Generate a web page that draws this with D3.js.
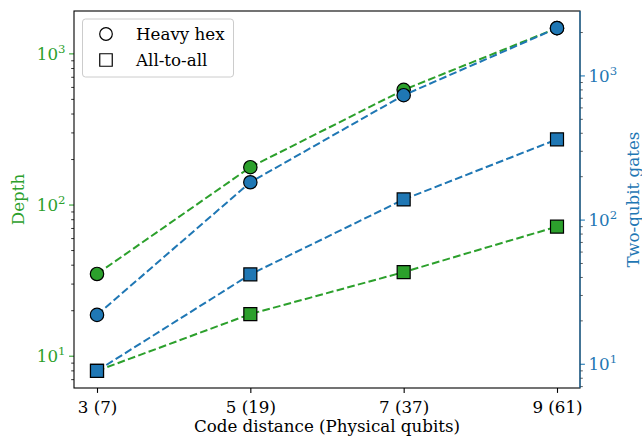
<!DOCTYPE html>
<html>
<head>
<meta charset="utf-8">
<script src="https://cdn.jsdelivr.net/npm/d3@7"></script>
<style>
  body { margin: 0; background: #fff; }
  svg { font-family: "DejaVu Serif", serif; }
</style>
</head>
<body>
<svg width="642" height="440"></svg>
<script>
var categories = ["3 (7)", "5 (19)", "7 (37)", "9 (61)"];
var depthHeavyHex = [35, 178, 578, 1480];
var depthAllToAll = [8, 19, 36, 72];
var gatesHeavyHex = [22, 183, 735, 2145];
var gatesAllToAll = [9, 42, 139, 363];

var green = "#2ca02c", blue = "#1f77b4";
var fs = "16.7px";

var margin = { top: 11, right: 62, bottom: 52, left: 74 },
    w = 642 - margin.left - margin.right,
    h = 440 - margin.top - margin.bottom;

var svg = d3.select("svg")
    .append("g")
    .attr("transform", "translate(" + margin.left + "," + margin.top + ")");

// matplotlib-like 5% margins in log space
function logDomain(vals) {
    var lo = Math.log10(d3.min(vals)), hi = Math.log10(d3.max(vals)), m = 0.05 * (hi - lo);
    return [Math.pow(10, lo - m), Math.pow(10, hi + m)];
}

var x = d3.scaleLinear().domain([-0.15, categories.length - 1 + 0.15]).range([0, w]);
var yL = d3.scaleLog().domain(logDomain(depthHeavyHex.concat(depthAllToAll))).range([h, 0]);
var yR = d3.scaleLog().domain(logDomain(gatesHeavyHex.concat(gatesAllToAll))).range([h, 0]);

function logTicks(scale) {
    var d = scale.domain(), major = [], minor = [];
    for (var k = Math.floor(Math.log10(d[0])); k <= Math.ceil(Math.log10(d[1])); k++) {
        for (var m = 1; m < 10; m++) {
            var v = m * Math.pow(10, k);
            if (v < d[0] || v > d[1]) continue;
            (m === 1 ? major : minor).push(v);
        }
    }
    return { major: major, minor: minor };
}

function drawYAxis(scale, side, color) {
    var t = logTicks(scale);
    var g = svg.append("g").attr("transform", "translate(" + (side === "left" ? 0 : w) + ",0)");
    var dir = side === "left" ? -1 : 1;
    g.selectAll("line.minor").data(t.minor).enter().append("line")
        .attr("x1", 0).attr("x2", dir * 2.8)
        .attr("y1", scale).attr("y2", scale)
        .attr("stroke", side === "left" ? "#000" : "#333").attr("stroke-width", 0.8);
    g.selectAll("line.major").data(t.major).enter().append("line")
        .attr("x1", 0).attr("x2", dir * 4.9)
        .attr("y1", scale).attr("y2", scale)
        .attr("stroke", color).attr("stroke-width", 1.1);
    var lab = g.selectAll("text.lab").data(t.major).enter().append("text")
        .attr("x", dir * 8.5)
        .attr("y", function(d) { return scale(d) + 6; })
        .attr("text-anchor", side === "left" ? "end" : "start")
        .attr("fill", color)
        .style("font-size", fs);
    lab.append("tspan").text("10");
    lab.append("tspan").attr("dy", -7).style("font-size", "11.7px")
        .text(function(d) { return Math.round(Math.log10(d)); });
}

drawYAxis(yL, "left", green);
drawYAxis(yR, "right", blue);

// x axis
var xAxis = d3.axisBottom(x)
    .tickValues(d3.range(categories.length))
    .tickFormat(function(i) { return categories[i]; })
    .tickSize(4.9);
var gx = svg.append("g").attr("transform", "translate(0," + h + ")").call(xAxis);
gx.select(".domain").remove();
gx.selectAll("line").attr("stroke-width", 1.1);
gx.selectAll("text").attr("y", 24.5).attr("dy", 0)
    .style("font-size", fs).style("font-family", "DejaVu Serif");

// spines
svg.append("rect").attr("width", w).attr("height", h)
    .attr("fill", "none").attr("stroke", "#000").attr("stroke-width", 1.1);
svg.append("line").attr("x1", w).attr("x2", w).attr("y1", 0).attr("y2", h)
    .attr("stroke", blue).attr("stroke-width", 1.1);

// axis labels
svg.append("text").attr("x", w / 2).attr("y", h + 44)
    .attr("text-anchor", "middle").style("font-size", fs)
    .text("Code distance (Physical qubits)");
svg.append("text")
    .attr("transform", "translate(" + (-50) + "," + (h / 2) + ") rotate(-90)")
    .attr("text-anchor", "middle").attr("fill", green).style("font-size", fs)
    .text("Depth");
svg.append("text")
    .attr("transform", "translate(" + (w + 59) + "," + (h / 2) + ") rotate(-90)")
    .attr("text-anchor", "middle").attr("fill", blue).style("font-size", fs)
    .text("Two-qubit gates");

var series = [
    { vals: depthHeavyHex, y: yL, color: green, shape: "circle" },
    { vals: depthAllToAll, y: yL, color: green, shape: "square" },
    { vals: gatesHeavyHex, y: yR, color: blue, shape: "circle" },
    { vals: gatesAllToAll, y: yR, color: blue, shape: "square" }
];

var line = d3.line();
series.forEach(function(s) {
    var pts = s.vals.map(function(v, i) { return [x(i), s.y(v)]; });
    svg.append("path").attr("d", line(pts))
        .attr("fill", "none").attr("stroke", s.color)
        .attr("stroke-width", 2).attr("stroke-dasharray", "7.7,3.3");
    var sym = d3.symbol().type(s.shape === "circle" ? d3.symbolCircle : d3.symbolSquare)
        .size(s.shape === "circle" ? Math.PI * 6.7 * 6.7 : 13 * 13);
    svg.selectAll(null).data(pts).enter().append("path")
        .attr("transform", function(p) { return "translate(" + p[0] + "," + p[1] + ")"; })
        .attr("d", sym)
        .attr("fill", s.color).attr("stroke", "#000").attr("stroke-width", 1.2);
});

// legend
var legendLabels = ["Heavy hex", "All-to-all"];
var legendShapes = [d3.symbolCircle, d3.symbolSquare];
var leg = svg.append("g").attr("transform", "translate(8.5,8)");
leg.append("rect").attr("width", 151).attr("height", 58).attr("rx", 3)
    .attr("fill", "#fff").attr("fill-opacity", 0.8)
    .attr("stroke", "#ccc").attr("stroke-width", 1);
var items = leg.selectAll("g.item").data(legendLabels).enter().append("g")
    .attr("transform", function(d, i) { return "translate(0," + (15 + i * 26) + ")"; });
items.append("path")
    .attr("transform", "translate(23.5,0)")
    .attr("d", function(d, i) {
        return d3.symbol().type(legendShapes[i]).size(i === 0 ? Math.PI * 6.3 * 6.3 : 12.5 * 12.5)();
    })
    .attr("fill", "#fff").attr("stroke", "#000").attr("stroke-width", 1.2);
items.append("text").attr("x", 53.5).attr("y", 6)
    .style("font-size", fs).text(function(d) { return d; });
</script>
</body>
</html>
